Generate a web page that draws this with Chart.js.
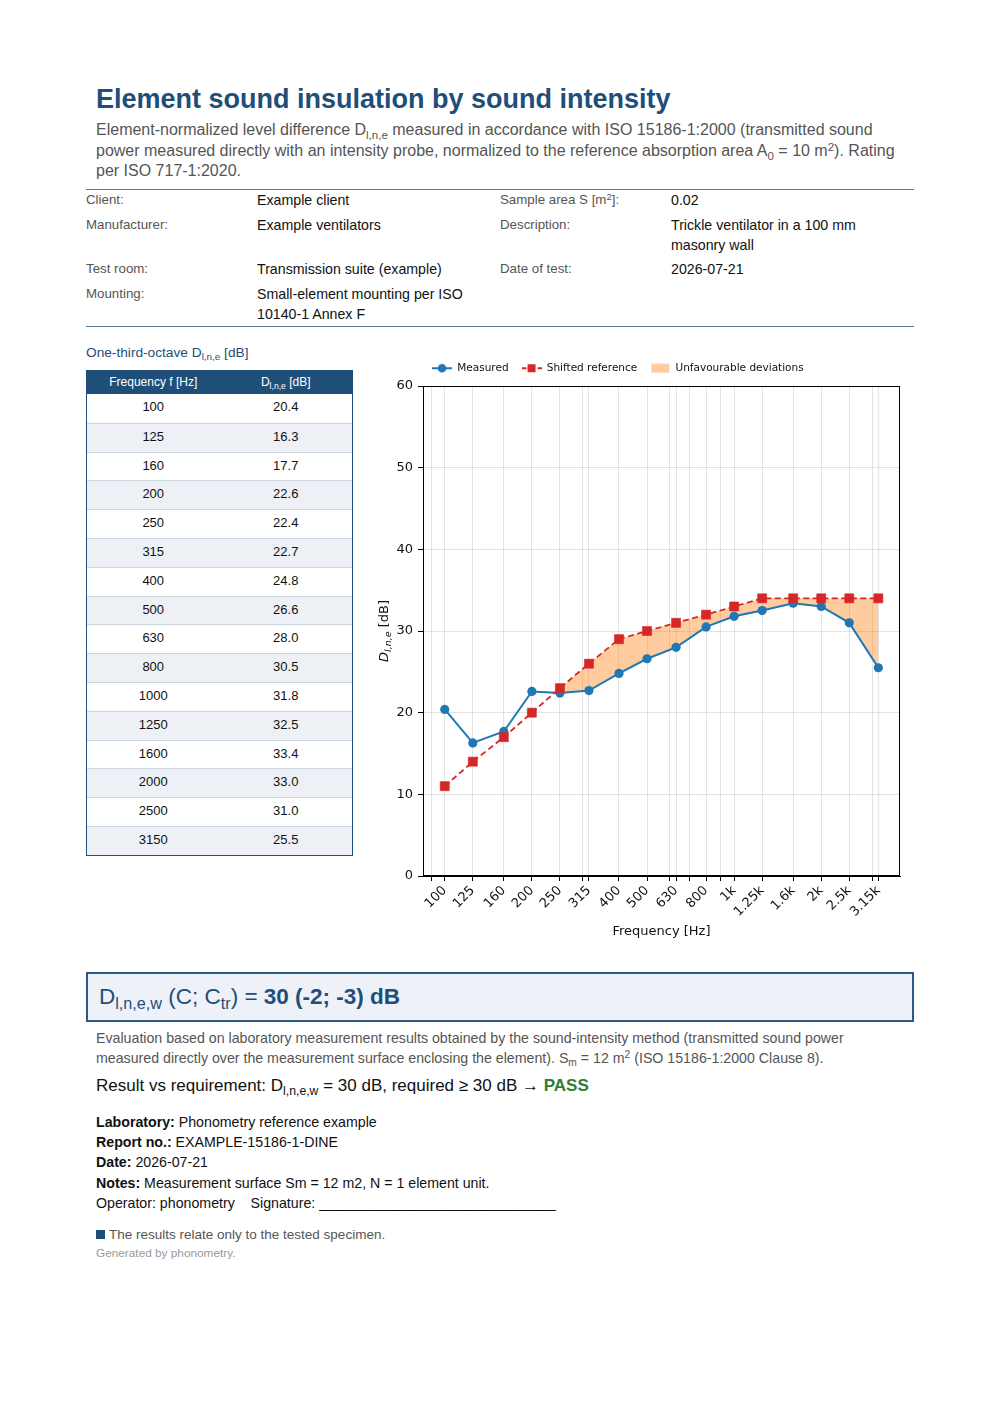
<!DOCTYPE html>
<html><head><meta charset="utf-8">
<script src="https://cdn.jsdelivr.net/npm/chart.js@4.4.1/dist/chart.umd.min.js"></script>
<style>
body{margin:0;background:#fff;font-family:"Liberation Sans",Arial,Helvetica,sans-serif;color:#111;}
#page{position:relative;width:1000px;height:1415px;overflow:hidden;}
.abs{position:absolute;}
.sub{font-size:0.72em;vertical-align:-0.32em;line-height:0;}
.sup{font-size:0.72em;vertical-align:0.45em;line-height:0;}
h1{margin:0;position:absolute;left:96px;top:84px;font-size:27px;line-height:30px;color:#1f4e79;font-weight:bold;white-space:nowrap;}
#intro{left:96px;top:120px;width:810px;font-size:16px;line-height:20.5px;color:#555;}
.rule{position:absolute;left:86px;width:828px;height:0;border-top:1px solid #5b7a99;}
#info{left:86px;top:190px;width:828px;border-collapse:collapse;table-layout:fixed;}
#info td{padding:0 8px 4.5px 0;vertical-align:top;line-height:20px;}
#info td.l{font-size:13.3px;color:#555;}
#info td.v{font-size:14.2px;color:#111;}
#dtitle{left:86px;top:343px;font-size:13.7px;line-height:20px;color:#1f4e79;}
#dtab{left:86px;top:370px;width:267px;box-sizing:border-box;border:1px solid #1f4e79;}
#dtab .hd{display:flex;height:23px;background:#1f4e79;color:#fff;font-size:12px;line-height:23px;}
#dtab .row{display:flex;height:28.8px;box-sizing:border-box;border-top:1px solid #cdd5df;font-size:13px;line-height:26px;color:#111;}
#dtab .row:first-of-type{border-top:none;}
#dtab .row.alt{background:#edf0f5;}
#dtab .c{flex:1;text-align:center;}
#chartbox{left:370px;top:350px;width:545px;height:600px;}
#result{left:86px;top:972px;width:828px;height:50px;box-sizing:border-box;border:2px solid #2b5a88;background:#eef2f8;color:#1f4e79;font-size:22.5px;line-height:46px;padding-left:11px;}
#eval{left:96px;top:1028px;width:790px;font-size:14.2px;line-height:20px;color:#555;}
#req{left:96px;top:1075px;font-size:17px;line-height:22px;color:#111;}
#req b{color:#2e7d32;}
#lab{left:96px;top:1112px;font-size:14.2px;line-height:20.2px;color:#111;}
#foot{left:96px;top:1226px;font-size:13.5px;line-height:18px;color:#555;}
#foot .sq{display:inline-block;width:9px;height:9px;background:#1f4e79;margin-right:4px;vertical-align:0px;}
#gen{left:96px;top:1246px;font-size:11.8px;line-height:14px;color:#999;}
</style>
</head>
<body>
<div id="page">
<h1>Element sound insulation by sound intensity</h1>
<div id="intro" class="abs">Element-normalized level difference D<span class="sub">l,n,e</span> measured in accordance with ISO 15186-1:2000 (transmitted sound power measured directly with an intensity probe, normalized to the reference absorption area A<span class="sub">0</span> = 10 m<span class="sup">2</span>). Rating per ISO 717-1:2020.</div>
<div class="rule" style="top:189px"></div>
<table id="info" class="abs">
<colgroup><col style="width:171px"><col style="width:243px"><col style="width:171px"><col style="width:243px"></colgroup>
<tr><td class="l">Client:</td><td class="v">Example client</td><td class="l">Sample area S [m<span class="sup">2</span>]:</td><td class="v">0.02</td></tr>
<tr><td class="l">Manufacturer:</td><td class="v">Example ventilators</td><td class="l">Description:</td><td class="v">Trickle ventilator in a 100 mm masonry wall</td></tr>
<tr><td class="l">Test room:</td><td class="v">Transmission suite (example)</td><td class="l">Date of test:</td><td class="v">2026-07-21</td></tr>
<tr><td class="l">Mounting:</td><td class="v">Small-element mounting per ISO 10140-1 Annex F</td><td class="l"></td><td class="v"></td></tr>
</table>
<div class="rule" style="top:326px"></div>
<div id="dtitle" class="abs">One-third-octave D<span class="sub">l,n,e</span> [dB]</div>
<div id="dtab" class="abs"><div class="hd"><div class="c">Frequency f [Hz]</div><div class="c">D<span class="sub">l,n,e</span> [dB]</div></div><div id="rows"></div></div>
<div id="chartbox" class="abs"><canvas id="c" width="545" height="600"></canvas></div>
<div id="result" class="abs">D<span class="sub">l,n,e,w</span> (C; C<span class="sub">tr</span>) = <b>30 (-2; -3) dB</b></div>
<div id="eval" class="abs">Evaluation based on laboratory measurement results obtained by the sound-intensity method (transmitted sound power measured directly over the measurement surface enclosing the element). S<span class="sub">m</span> = 12 m<span class="sup">2</span> (ISO 15186-1:2000 Clause 8).</div>
<div id="req" class="abs">Result vs requirement: D<span class="sub">l,n,e,w</span> = 30 dB, required ≥ 30 dB → <b>PASS</b></div>
<div id="lab" class="abs"><b>Laboratory:</b> Phonometry reference example<br><b>Report no.:</b> EXAMPLE-15186-1-DINE<br><b>Date:</b> 2026-07-21<br><b>Notes:</b> Measurement surface Sm = 12 m2, N = 1 element unit.<br>Operator: phonometry &nbsp;&nbsp; Signature: ______________________________</div>
<div id="foot" class="abs"><span class="sq"></span>The results relate only to the tested specimen.</div>
<div id="gen" class="abs">Generated by phonometry.</div>
</div>
<script>
const freqs = [100,125,160,200,250,315,400,500,630,800,1000,1250,1600,2000,2500,3150];
const freqLabels = ['100','125','160','200','250','315','400','500','630','800','1k','1.25k','1.6k','2k','2.5k','3.15k'];
const measured = [20.4,16.3,17.7,22.6,22.4,22.7,24.8,26.6,28.0,30.5,31.8,32.5,33.4,33.0,31.0,25.5];
const shiftedRef = [11,14,17,20,23,26,29,30,31,32,33,34,34,34,34,34];
const minorGridFreqs = [90,300,600,700,900,3000];
const yTicks = [0,10,20,30,40,50,60];

// data table
const rowsEl = document.getElementById('rows');
freqs.forEach((f,i)=>{
  const r = document.createElement('div');
  r.className = 'row' + (i%2===1 ? ' alt' : '');
  r.innerHTML = '<div class="c">'+f+'</div><div class="c">'+measured[i].toFixed(1)+'</div>';
  rowsEl.appendChild(r);
});

const labelMap = {};
freqs.forEach((f,i)=>{ labelMap[f] = freqLabels[i]; });
const allTicks = Array.from(new Set([...freqs, ...minorGridFreqs])).sort((a,b)=>a-b);

function handle(kind){
  const c = document.createElement('canvas');
  c.width = 20; c.height = 12;
  const x = c.getContext('2d');
  if (kind === 'm'){
    x.strokeStyle = '#1f77b4'; x.lineWidth = 2;
    x.beginPath(); x.moveTo(0,6); x.lineTo(20,6); x.stroke();
    x.fillStyle = '#1f77b4'; x.beginPath(); x.arc(10,6,4.3,0,Math.PI*2); x.fill();
  } else if (kind === 'r'){
    x.strokeStyle = '#d62728'; x.lineWidth = 2; x.setLineDash([5,3]);
    x.beginPath(); x.moveTo(0,6); x.lineTo(20,6); x.stroke();
    x.fillStyle = '#d62728'; x.fillRect(6,2,8,8);
  } else {
    x.fillStyle = 'rgba(255,127,14,0.4)'; x.fillRect(1,1.5,18,9);
  }
  return c;
}
const handles = [handle('m'), handle('r'), handle('f')];

const frame = {
  id:'frame',
  afterLayout(chart){
    chart.legend.left = 49;
    chart.legend.top = 0;
  },
  afterDraw(chart){
    const a = chart.chartArea, ctx = chart.ctx;
    ctx.save();
    ctx.strokeStyle = '#000'; ctx.lineWidth = 1;
    ctx.strokeRect(Math.round(a.left)+0.5, Math.round(a.top)+0.5, Math.round(a.right-a.left)-1, Math.round(a.bottom-a.top)-1);
    // y-axis title with subscript
    const parts = [['D','italic 13px "DejaVu Sans"',0],['l,n,e','italic 9.5px "DejaVu Sans"',3],[' [dB]','13px "DejaVu Sans"',0]];
    let total = 0;
    parts.forEach(p=>{ ctx.font = p[1]; p.push(ctx.measureText(p[0]).width); total += p[3]; });
    ctx.translate(13, (a.top+a.bottom)/2);
    ctx.rotate(-Math.PI/2);
    ctx.fillStyle = '#111'; ctx.textBaseline = 'alphabetic';
    let x = -total/2;
    parts.forEach(p=>{ ctx.font = p[1]; ctx.fillText(p[0], x, 4.5 + p[2]); x += p[3]; });
    ctx.restore();
  }
};

new Chart(document.getElementById('c'), {
  type:'line',
  data:{
    datasets:[
      {label:'Measured', data: freqs.map((f,i)=>({x:f,y:measured[i]})), borderColor:'#1f77b4', backgroundColor:'#1f77b4',
       borderWidth:2, pointRadius:4.6, pointStyle:'circle', pointBackgroundColor:'#1f77b4', pointBorderWidth:0, tension:0, fill:false, order:2},
      {label:'Shifted reference', data: freqs.map((f,i)=>({x:f,y:shiftedRef[i]})), borderColor:'#d62728', backgroundColor:'#d62728',
       borderWidth:1.8, borderDash:[6,3.5], pointRadius:6.4, pointStyle:'rect', pointBackgroundColor:'#d62728', pointBorderColor:'rgba(214,39,40,0.6)', pointBorderWidth:1, tension:0,
       fill:{target:0, above:'rgba(255,127,14,0.4)', below:'rgba(0,0,0,0)'}, order:1}
    ]
  },
  options:{
    responsive:false, animation:false, devicePixelRatio:1,
    layout:{padding:{top:2.5,right:15,bottom:7,left:0}},
    plugins:{
      filler:{drawTime:'beforeDatasetsDraw'},
      tooltip:{enabled:false},
      legend:{
        position:'top', align:'start',
        labels:{
          usePointStyle:true, pointStyleWidth:20, padding:13, color:'#111',
          font:{family:'"DejaVu Sans"', size:10.5},
          generateLabels(){
            return ['Measured','Shifted reference','Unfavourable deviations'].map((t,i)=>({
              text:t, pointStyle:handles[i], fillStyle:'#000', strokeStyle:'#000', lineWidth:0, hidden:false, datasetIndex:i<2?i:undefined, fontColor:'#111'
            }));
          }
        }
      }
    },
    scales:{
      x:{
        type:'logarithmic', min:84.1, max:3743,
        afterFit(s){ s.height = 67; },
        afterBuildTicks(s){ s.ticks = allTicks.map(v=>({value:v})); },
        ticks:{autoSkip:false, minRotation:45, maxRotation:45, padding:2, color:'#111',
          font:{family:'"DejaVu Sans"', size:13},
          callback(v){ return labelMap[v] !== undefined ? labelMap[v] : ''; }},
        grid:{color:'rgba(0,0,0,0.11)', lineWidth:1, tickColor:'#000', tickLength:5, drawTicks:true},
        border:{display:true, color:'#000', width:1},
        title:{display:true, text:'Frequency [Hz]', color:'#111', font:{family:'"DejaVu Sans"', size:13}, padding:{top:4,bottom:4}}
      },
      y:{
        min:0, max:60,
        afterFit(s){ s.width = 53; },
        afterBuildTicks(s){ s.ticks = yTicks.map(v=>({value:v})); },
        ticks:{padding:5, color:'#111', font:{family:'"DejaVu Sans"', size:13}},
        grid:{color:'rgba(0,0,0,0.11)', lineWidth:1, tickColor:'#000', tickLength:5},
        border:{display:true, color:'#000', width:1}
      }
    }
  },
  plugins:[frame]
});
</script>
</body></html>
